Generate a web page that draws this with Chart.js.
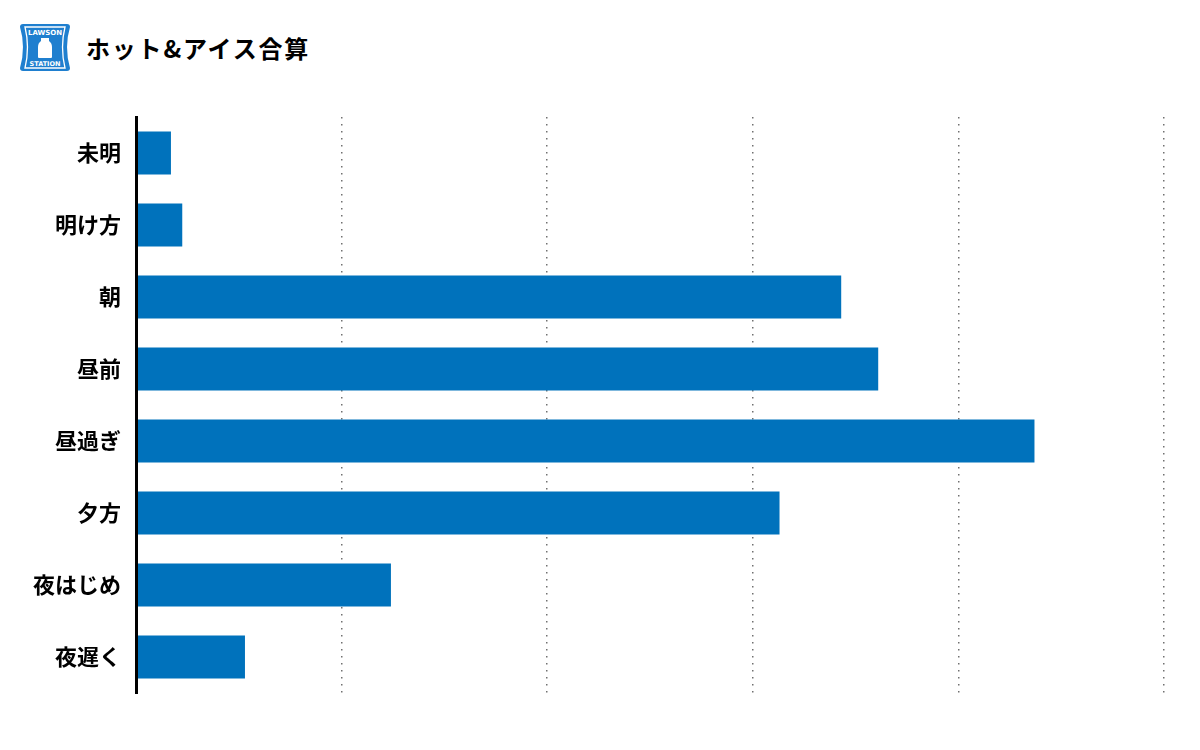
<!DOCTYPE html>
<html lang="ja">
<head>
<meta charset="utf-8">
<script src="https://cdn.jsdelivr.net/npm/chart.js@4"></script>
<style>
  html, body { margin: 0; padding: 0; background: #fff; }
  #wrap { position: relative; width: 1200px; height: 750px; }
  #logo { position: absolute; left: 19px; top: 23px; }
  #title {
    position: absolute; left: 86px; top: 30px;
    font-family: "Noto Sans CJK JP", sans-serif; font-weight: 700;
    font-size: 24px; letter-spacing: 1.8px; color: #000;
  }
  canvas { position: absolute; left: 0; top: 0; }
</style>
</head>
<body>
<div id="wrap">
  <svg id="logo" width="52" height="49" viewBox="0 0 52 49">
    <path d="M4 1 H48 Q51 1 51 4 Q45 24 51 45 Q51 48 48 48 H4 Q1 48 1 45 Q7 24 1 4 Q1 1 4 1 Z" fill="#1f7fcf"/>
    <path d="M6 4 H46 Q41 24 46 45 H6 Q11 24 6 4 Z" fill="none" stroke="#fff" stroke-width="1.3"/>
    <text x="26" y="12" text-anchor="middle" font-family="DejaVu Sans" font-weight="700" font-size="7" fill="#fff">LAWSON</text>
    <text x="26" y="43" text-anchor="middle" font-family="DejaVu Sans" font-weight="700" font-size="6.5" fill="#fff">STATION</text>
    <path d="M22 15 H30 V18 Q33 20 33 24 V34 Q33 35 32 35 H20 Q19 35 19 34 V24 Q19 20 22 18 Z" fill="#fff"/>
  </svg>
  <div id="title">ホット&amp;アイス合算</div>
  <canvas id="chart" width="1200" height="750"></canvas>
</div>
<script>
// time-of-day categories and their combined hot & ice values
const categories = ['未明', '明け方', '朝', '昼前', '昼過ぎ', '夕方', '夜はじめ', '夜遅く'];
const values = [17, 22.5, 343, 361, 437, 313, 124, 53];
const xTicks = [0, 100, 200, 300, 400, 500];

const config = {
    type: 'bar',
    data: {
        labels: categories,
        datasets: [
            {
                label: 'ホット&アイス合算',
                data: values,
                backgroundColor: '#0072BC',
                borderWidth: 0,
                barPercentage: 0.6,
                categoryPercentage: 1
            }
        ]
    },
    options: {
        indexAxis: 'y',
        responsive: false,
        animation: false,
        layout: { padding: { top: 117, bottom: 57, right: 36, left: 0 } },
        plugins: {
            legend: { display: false },
            tooltip: { enabled: false }
        },
        scales: {
            x: {
                min: xTicks[0],
                max: xTicks[xTicks.length - 1],
                afterBuildTicks: (axis) => { axis.ticks = xTicks.map(v => ({ value: v })); },
                afterFit: (axis) => { axis.height = 0; },
                ticks: { display: false },
                grid: { color: '#707070', lineWidth: 1.5, drawTicks: false },
                border: { display: false, dash: [1.5, 5.5] }
            },
            y: {
                afterFit: (axis) => { axis.width = 136; },
                ticks: {
                    color: '#000',
                    padding: 15,
                    font: { family: '"Noto Sans CJK JP", sans-serif', size: 22, weight: 'bold' }
                },
                grid: { display: false, drawTicks: false },
                border: { display: true, color: '#000', width: 3, z: 1 }
            }
        }
    }
};

new Chart(document.getElementById('chart'), config);
</script>
</body>
</html>
